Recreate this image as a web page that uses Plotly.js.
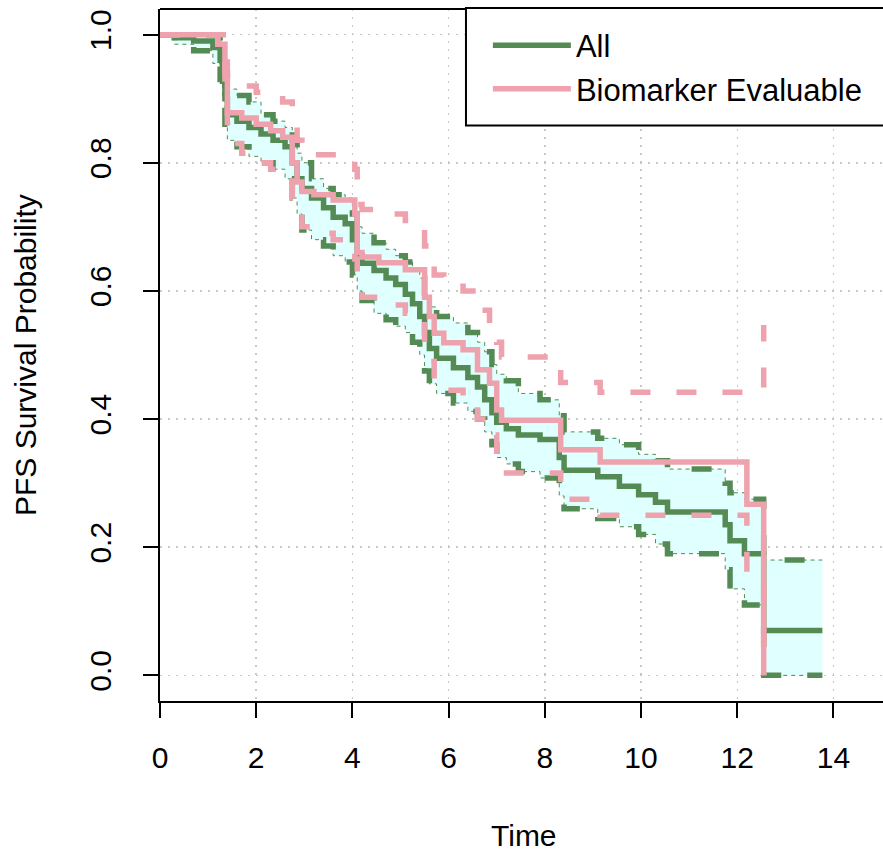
<!DOCTYPE html>
<html>
<head>
<meta charset="utf-8">
<script src="https://cdn.plot.ly/plotly-3.0.1.min.js"></script>
<style>html,body{margin:0;padding:0;background:#fff;}#chart{width:883px;height:852px;}</style>
</head>
<body>
<div id="chart"></div>
<script>
// ---- Data: "All" group (Kaplan-Meier steps) ----
var timeAll = [0, 0.3, 0.7, 1.1, 1.25, 1.3, 1.35, 1.4, 1.6, 1.85, 2.1, 2.35, 2.6, 2.75, 2.85, 2.95, 3.15, 3.4, 3.6, 3.85, 4.0, 4.1, 4.2, 4.45, 4.7, 4.9, 5.1, 5.25, 5.4, 5.5, 5.6, 5.75, 6.1, 6.4, 6.6, 6.75, 6.9, 7.0, 7.2, 7.45, 7.9, 8.3, 8.4, 9.1, 9.55, 9.95, 10.3, 10.55, 11.75, 11.85, 12.15, 12.55, 13.77];
var survAll = [1.0, 0.995, 0.99, 0.98, 0.96, 0.94, 0.90, 0.875, 0.865, 0.855, 0.845, 0.835, 0.825, 0.80, 0.775, 0.76, 0.745, 0.73, 0.715, 0.705, 0.68, 0.655, 0.643, 0.632, 0.62, 0.61, 0.595, 0.58, 0.56, 0.535, 0.51, 0.495, 0.48, 0.465, 0.45, 0.43, 0.41, 0.395, 0.385, 0.375, 0.368, 0.34, 0.32, 0.31, 0.295, 0.282, 0.27, 0.255, 0.235, 0.21, 0.19, 0.07, 0.07];
var upperAll = [1.0, 1.0, 1.0, 1.0, 0.99, 0.975, 0.94, 0.915, 0.905, 0.895, 0.875, 0.865, 0.855, 0.835, 0.815, 0.80, 0.775, 0.76, 0.75, 0.745, 0.72, 0.70, 0.69, 0.675, 0.665, 0.655, 0.645, 0.635, 0.62, 0.59, 0.575, 0.56, 0.55, 0.535, 0.52, 0.505, 0.485, 0.47, 0.46, 0.44, 0.43, 0.405, 0.38, 0.37, 0.36, 0.345, 0.335, 0.322, 0.30, 0.285, 0.275, 0.18, 0.18];
var lowerAll = [1.0, 0.985, 0.975, 0.955, 0.93, 0.905, 0.86, 0.835, 0.825, 0.81, 0.80, 0.79, 0.775, 0.745, 0.72, 0.695, 0.68, 0.67, 0.655, 0.645, 0.625, 0.60, 0.585, 0.565, 0.555, 0.545, 0.535, 0.52, 0.50, 0.475, 0.455, 0.44, 0.425, 0.412, 0.40, 0.38, 0.36, 0.34, 0.33, 0.318, 0.308, 0.28, 0.26, 0.245, 0.232, 0.22, 0.205, 0.19, 0.165, 0.135, 0.11, 0.0, 0.0];

// ---- Data: "Biomarker Evaluable" group ----
var timeBio = [0, 1.2, 1.35, 1.4, 1.7, 2.0, 2.3, 2.55, 2.75, 2.85, 2.95, 3.2, 3.6, 4.05, 4.1, 4.2, 4.55, 5.1, 5.5, 5.6, 5.7, 5.9, 6.3, 6.6, 6.85, 7.0, 7.1, 8.33, 9.15, 12.2, 12.55];
var survBio = [1.0, 0.985, 0.94, 0.878, 0.87, 0.86, 0.85, 0.84, 0.80, 0.77, 0.755, 0.75, 0.742, 0.72, 0.66, 0.653, 0.644, 0.633, 0.59, 0.56, 0.534, 0.519, 0.508, 0.477, 0.456, 0.414, 0.398, 0.352, 0.333, 0.267, 0.0];
var upperBio = [1.0, 1.0, 1.0, 0.925, 0.92, 0.91, 0.905, 0.895, 0.87, 0.835, 0.82, 0.8125, 0.8125, 0.79, 0.735, 0.727, 0.72, 0.71, 0.67, 0.65, 0.625, 0.615, 0.60, 0.57, 0.545, 0.52, 0.497, 0.457, 0.442, 0.448, 0.547];
var lowerBio = [1.0, 0.96, 0.89, 0.83, 0.815, 0.80, 0.79, 0.78, 0.745, 0.715, 0.70, 0.69, 0.68, 0.65, 0.60, 0.59, 0.578, 0.565, 0.52, 0.49, 0.46, 0.445, 0.43, 0.40, 0.375, 0.335, 0.316, 0.275, 0.25, 0.16, 0.0];

var seriesNames = ["All", "Biomarker Evaluable"];
var xTicks = [0, 2, 4, 6, 8, 10, 12, 14];
var yTicks = [0.0, 0.2, 0.4, 0.6, 0.8, 1.0];

var green = "#548B54", pink = "#EEA2AD", band = "#E0FFFF";
var ciDash = "20px,26px";
var LW = 5.5;
var FONT = "Liberation Sans, Arial, Helvetica, sans-serif";

var traces = [
  {x: timeAll, y: lowerAll, type: "scatter", mode: "lines", line: {shape: "hv", color: green, width: 1, dash: "4px,4px"}, showlegend: false, hoverinfo: "skip"},
  {x: timeAll, y: upperAll, type: "scatter", mode: "lines", fill: "tonexty", fillcolor: band, line: {shape: "hv", color: green, width: 1, dash: "4px,4px"}, showlegend: false, hoverinfo: "skip"},
  {x: timeAll, y: survAll, type: "scatter", mode: "lines", name: seriesNames[0], line: {shape: "hv", color: green, width: LW}},
  {x: timeAll, y: upperAll, type: "scatter", mode: "lines", line: {shape: "hv", color: green, width: LW, dash: ciDash}, showlegend: false},
  {x: timeAll, y: lowerAll, type: "scatter", mode: "lines", line: {shape: "hv", color: green, width: LW, dash: ciDash}, showlegend: false},
  {x: timeBio, y: survBio, type: "scatter", mode: "lines", name: seriesNames[1], line: {shape: "hv", color: pink, width: LW}},
  {x: timeBio, y: upperBio, type: "scatter", mode: "lines", line: {shape: "hv", color: pink, width: LW, dash: ciDash}, showlegend: false},
  {x: timeBio, y: lowerBio, type: "scatter", mode: "lines", line: {shape: "hv", color: pink, width: LW, dash: ciDash}, showlegend: false}
];

var axisCommon = {
  ticks: "outside", ticklen: 15, tickwidth: 2, tickcolor: "#000",
  showline: true, linecolor: "#000", linewidth: 2,
  showgrid: true, gridcolor: "#c8c8c8", griddash: "2px,6px", gridwidth: 1.5,
  zeroline: false, tickfont: {family: FONT, size: 30, color: "#000"}
};

var layout = {
  width: 883, height: 852,
  margin: {l: 160, r: 0, t: 9, b: 151, pad: 0},
  paper_bgcolor: "#fff", plot_bgcolor: "#fff",
  font: {family: FONT, size: 30, color: "#000"},
  xaxis: Object.assign({}, axisCommon, {range: [0, 15.03], tickmode: "array", tickvals: xTicks, ticktext: xTicks.map(String), ticklabelstandoff: 14}),
  yaxis: Object.assign({}, axisCommon, {range: [-0.04, 1.04], tickmode: "array", tickvals: yTicks, ticktext: yTicks.map(function(v){return v.toFixed(1);}), tickangle: -90, ticklabelstandoff: 20}),
  showlegend: true,
  legend: {x: 0.4535, xanchor: "left", y: 0.9860, yanchor: "top", bgcolor: "rgba(0,0,0,0)", borderwidth: 0, font: {family: FONT, size: 31, color: "#000"}, itemwidth: 78, traceorder: "normal"},
  shapes: [
    {type: "line", xref: "paper", yref: "paper", x0: 0, x1: 1, y0: 1, y1: 1, line: {color: "#000", width: 2}},
    {type: "rect", xref: "paper", yref: "paper", x0: 0.4232, x1: 1.02, y0: 0.8318, y1: 1.0014, fillcolor: "#fff", line: {color: "#000", width: 2}, layer: "above"}
  ],
  annotations: [
    {text: "Time", xref: "paper", yref: "paper", x: 0.503, y: -0.1942, xanchor: "center", yanchor: "middle", showarrow: false, font: {family: FONT, size: 30, color: "#000"}},
    {text: "PFS Survival Probability", xref: "paper", yref: "paper", x: -0.1867, y: 0.5, xanchor: "center", yanchor: "middle", textangle: -90, showarrow: false, font: {family: FONT, size: 30, color: "#000"}}
  ]
};

Plotly.newPlot("chart", traces, layout, {displayModeBar: false, staticPlot: true});
</script>
</body>
</html>
